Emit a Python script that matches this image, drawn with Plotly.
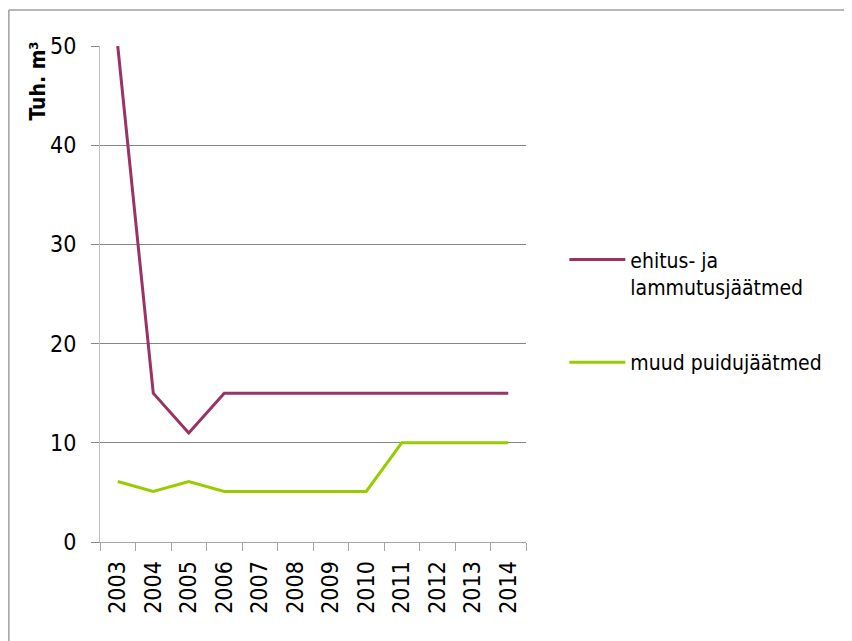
import plotly.graph_objects as go

years = ["2003", "2004", "2005", "2006", "2007", "2008", "2009", "2010",
         "2011", "2012", "2013", "2014"]
ehitus = [50, 15, 11, 15, 15, 15, 15, 15, 15, 15, 15, 15]
muud = [6.1, 5.1, 6.1, 5.1, 5.1, 5.1, 5.1, 5.1, 10, 10, 10, 10]
y_ticks = [0, 10, 20, 30, 40, 50]

font = "DejaVu Sans Condensed, DejaVu Sans"

fig = go.Figure()
fig.add_trace(go.Scatter(x=years, y=ehitus, mode="lines",
                         name="ehitus- ja<br>lammutusjäätmed", legendgroup="a",
                         line=dict(color="#993366", width=3)))
fig.add_trace(go.Scatter(x=years, y=muud, mode="lines",
                         name="muud puidujäätmed", legendgroup="b",
                         line=dict(color="#99CC00", width=3)))

# page body has an 8px margin, so the figure is a bit smaller than the window
fig.update_layout(
    width=844, height=633,
    margin=dict(l=92, r=326, t=38, b=99),
    paper_bgcolor="white", plot_bgcolor="white",
    font=dict(family=font, size=23, color="black"),
    showlegend=True,
    legend=dict(x=1.09, y=0.61, xanchor="left", yanchor="top",
                font=dict(size=21), valign="top", tracegroupgap=45,
                itemwidth=56),
    xaxis=dict(type="category", range=[-0.5, 11.5], tickangle=-90,
               tickson="boundaries", ticks="outside", ticklen=8,
               tickcolor="#a6a6a6", showline=True, linecolor="#a6a6a6",
               showgrid=False, fixedrange=True, ticklabelstandoff=9),
    yaxis=dict(range=[0, 50], tickvals=y_ticks, showgrid=True,
               gridcolor="#868686", gridwidth=1, showline=True,
               linecolor="#bfbfbf", ticks="outside", ticklen=8,
               tickcolor="#868686", zeroline=False, ticklabelstandoff=10),
)

# y axis title, top-aligned like the original
fig.add_annotation(text="<b>Tuh. m³</b>", xref="paper", yref="paper",
                   x=-0.1455, y=1.012, xanchor="center", yanchor="top",
                   textangle=-90, showarrow=False, font=dict(size=21))

# chart-area frame (left and top edges visible)
fig.add_shape(type="line", xref="paper", yref="paper",
              x0=-0.214, x1=-0.214, y0=-0.25, y1=1.0726,
              line=dict(color="#a0a0a0", width=1.5))
fig.add_shape(type="line", xref="paper", yref="paper",
              x0=-0.214, x1=1.8, y0=1.0726, y1=1.0726,
              line=dict(color="#a0a0a0", width=1.5))

fig.write_html("out.html")
